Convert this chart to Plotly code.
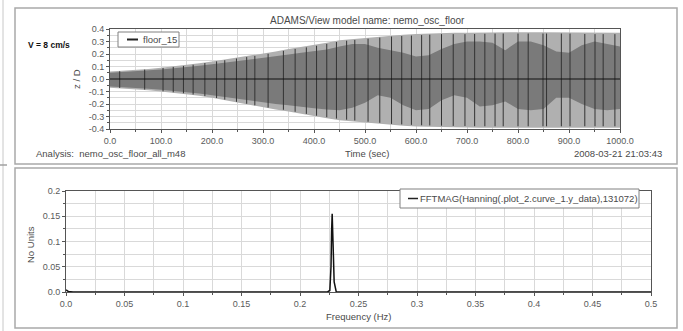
import numpy as np
import plotly.graph_objects as go

# ---------------- data ----------------
# Time history envelope of z/D for floor_15, sampled every 25 s
env_time = list(range(0, 1001, 25))
outer_hi = [0.06, 0.065, 0.07, 0.08, 0.09, 0.10, 0.11, 0.125, 0.14, 0.155, 0.17, 0.185, 0.20, 0.22,
            0.24, 0.255, 0.27, 0.29, 0.31, 0.32, 0.33, 0.34, 0.35, 0.355, 0.36, 0.365, 0.37, 0.37,
            0.37, 0.372, 0.375, 0.375, 0.375, 0.375, 0.375, 0.375, 0.375, 0.372, 0.37, 0.37, 0.37]
outer_lo = [-0.07, -0.075, -0.08, -0.09, -0.10, -0.11, -0.12, -0.135, -0.15, -0.17, -0.19, -0.21,
            -0.23, -0.245, -0.26, -0.28, -0.30, -0.315, -0.33, -0.34, -0.35, -0.36, -0.37, -0.375,
            -0.38, -0.383, -0.385, -0.387, -0.388, -0.39, -0.39, -0.39, -0.39, -0.39, -0.39, -0.39,
            -0.39, -0.39, -0.39, -0.39, -0.39]
inner_hi = [0.05, 0.055, 0.06, 0.068, 0.076, 0.085, 0.094, 0.105, 0.118, 0.13, 0.142, 0.155, 0.165,
            0.18, 0.195, 0.21, 0.22, 0.235, 0.26, 0.28, 0.28, 0.25, 0.23, 0.21, 0.18, 0.19, 0.24,
            0.28, 0.30, 0.30, 0.29, 0.23, 0.30, 0.30, 0.27, 0.22, 0.21, 0.27, 0.30, 0.28, 0.26]
inner_lo = [-0.06, -0.065, -0.07, -0.078, -0.086, -0.095, -0.104, -0.116, -0.13, -0.145, -0.16,
            -0.175, -0.19, -0.20, -0.21, -0.225, -0.235, -0.245, -0.25, -0.23, -0.19, -0.13, -0.15,
            -0.21, -0.25, -0.24, -0.17, -0.13, -0.15, -0.22, -0.21, -0.18, -0.24, -0.25, -0.24,
            -0.15, -0.15, -0.20, -0.24, -0.25, -0.24]
# times of the darker vertical strokes in the time history
streak_time = [19, 68, 104, 124, 144, 163, 186, 209, 225, 248, 268, 284, 310, 340, 363, 385, 405,
               425, 444, 464, 480, 506, 529, 552, 572, 591, 611, 627, 650, 673, 696, 715, 735,
               755, 771, 800, 820, 849, 856, 885, 902, 931, 951, 967, 990]

# FFT magnitude spectrum
fft_freq = [0.0, 0.002, 0.006, 0.2235, 0.2255, 0.2265, 0.2270, 0.2275, 0.2282, 0.2292, 0.2310, 0.5]
fft_mag = [0.004, 0.001, 0.0, 0.0, 0.003, 0.05, 0.12, 0.155, 0.10, 0.02, 0.0, 0.0]

# tick labels
top_x_ticks = [0, 100, 200, 300, 400, 500, 600, 700, 800, 900, 1000]
top_x_text = ["0.0", "100.0", "200.0", "300.0", "400.0", "500.0", "600.0", "700.0", "800.0", "900.0", "1000.0"]
top_y_ticks = [0.4, 0.3, 0.2, 0.1, 0.0, -0.1, -0.2, -0.3, -0.4]
top_y_text = ["0.4", "0.3", "0.2", "0.1", "0.0", "-0.1", "-0.2", "-0.3", "-0.4"]
bot_x_ticks = [0, 0.05, 0.1, 0.15, 0.2, 0.25, 0.3, 0.35, 0.4, 0.45, 0.5]
bot_x_text = ["0.0", "0.05", "0.1", "0.15", "0.2", "0.25", "0.3", "0.35", "0.4", "0.45", "0.5"]
bot_y_ticks = [0.0, 0.05, 0.1, 0.15, 0.2]
bot_y_text = ["0.0", "0.05", "0.1", "0.15", "0.2"]

series_top = "floor_15"
series_bottom = "FFTMAG(Hanning(.plot_2.curve_1.y_data),131072)"

# ---------------- figure ----------------
W, H = 683, 331
FONT = "Liberation Sans, Arial, sans-serif"
TXT = "#4a4a4a"

def px_x(p):
    return p / W

def px_y(p):
    return 1 - p / H

fig = go.Figure()

# outer light band
fig.add_trace(go.Scatter(x=env_time, y=outer_hi, mode="lines", line=dict(width=0, color="#b0b0b0"),
                         showlegend=False, hoverinfo="skip", xaxis="x", yaxis="y"))
fig.add_trace(go.Scatter(x=env_time, y=outer_lo, mode="lines", line=dict(width=0, color="#b0b0b0"),
                         fill="tonexty", fillcolor="#b0b0b0", showlegend=False, hoverinfo="skip",
                         xaxis="x", yaxis="y"))
# inner darker band
fig.add_trace(go.Scatter(x=env_time, y=inner_hi, mode="lines", line=dict(width=0, color="#7a7a7a"),
                         showlegend=False, hoverinfo="skip", xaxis="x", yaxis="y"))
fig.add_trace(go.Scatter(x=env_time, y=inner_lo, mode="lines", line=dict(width=0, color="#7a7a7a"),
                         fill="tonexty", fillcolor="#7a7a7a", showlegend=False, hoverinfo="skip",
                         xaxis="x", yaxis="y"))
# dark strokes
sx, sy = [], []
for t in streak_time:
    hi = float(np.interp(t, env_time, outer_hi))
    lo = float(np.interp(t, env_time, outer_lo))
    sx += [t, t, None]
    sy += [lo * 0.97, hi * 0.97, None]
fig.add_trace(go.Scatter(x=sx, y=sy, mode="lines", line=dict(width=1, color="#333333"),
                         showlegend=False, hoverinfo="skip", xaxis="x", yaxis="y"))
# mean line
fig.add_trace(go.Scatter(x=[0, 1000], y=[0, 0], mode="lines", line=dict(width=1, color="#111111"),
                         name=series_top, showlegend=False, hoverinfo="skip", xaxis="x", yaxis="y"))

# FFT
fig.add_trace(go.Scatter(x=fft_freq, y=fft_mag, mode="lines", line=dict(width=1.5, color="#111111"),
                         name=series_bottom, showlegend=False, xaxis="x2", yaxis="y2"))

axis_common = dict(showline=True, linecolor="#555555", linewidth=1, mirror=True,
                   ticks="outside", ticklen=3, tickcolor="#555555", automargin=False,
                   tickfont=dict(family=FONT, size=9, color="#5a5a5a"),
                   gridcolor="#d9d9d9", gridwidth=1, zeroline=False, fixedrange=True)

fig.update_layout(
    width=W, height=H,
    margin=dict(l=0, r=0, t=0, b=0, autoexpand=False),
    paper_bgcolor="white", plot_bgcolor="white",
    font=dict(family=FONT, size=9, color=TXT),
    showlegend=False,
    xaxis=dict(domain=[px_x(110), px_x(620)], range=[0, 1000], anchor="y",
               tickvals=top_x_ticks, ticktext=top_x_text,
               minor=dict(dtick=50, tick0=0, showgrid=True, gridcolor="#d9d9d9", ticks="outside",
                          ticklen=2, tickcolor="#555555"),
               **axis_common),
    yaxis=dict(domain=[px_y(129), px_y(29)], range=[-0.4, 0.4], anchor="x",
               tickvals=top_y_ticks, ticktext=top_y_text,
               minor=dict(dtick=0.05, tick0=0, showgrid=True, gridcolor="#d9d9d9", ticks="outside",
                          ticklen=2, tickcolor="#555555"),
               **axis_common),
    xaxis2=dict(domain=[px_x(66), px_x(651)], range=[0, 0.5], anchor="y2",
                tickvals=bot_x_ticks, ticktext=bot_x_text,
                minor=dict(dtick=0.025, tick0=0, showgrid=True, gridcolor="#d9d9d9", ticks="outside",
                           ticklen=2, tickcolor="#555555"),
                **axis_common),
    yaxis2=dict(domain=[px_y(292), px_y(191)], range=[0, 0.2], anchor="x2",
                tickvals=bot_y_ticks, ticktext=bot_y_text,
                minor=dict(dtick=0.025, tick0=0, showgrid=True, gridcolor="#d9d9d9", ticks="outside",
                           ticklen=2, tickcolor="#555555"),
                **axis_common),
)

# panel frames, legend boxes and decoration
shapes = [
    dict(type="rect", xref="paper", yref="paper", x0=px_x(15), x1=px_x(677), y0=px_y(164), y1=px_y(8),
         line=dict(color="#a9a9a9", width=1.5), layer="below"),
    dict(type="rect", xref="paper", yref="paper", x0=px_x(15), x1=px_x(677), y0=px_y(328), y1=px_y(168),
         line=dict(color="#a9a9a9", width=1.5), layer="below"),
    dict(type="line", xref="paper", yref="paper", x0=px_x(3), x1=px_x(3), y0=0, y1=1,
         line=dict(color="#c8c8c8", width=1)),
    dict(type="line", xref="paper", yref="paper", x0=0, x1=px_x(7), y0=px_y(165), y1=px_y(165),
         line=dict(color="#a0a0a0", width=1.5)),
    # legend 1
    dict(type="rect", xref="paper", yref="paper", x0=px_x(118), x1=px_x(179), y0=px_y(47), y1=px_y(32),
         line=dict(color="#808080", width=1), fillcolor="white", layer="above"),
    dict(type="line", xref="paper", yref="paper", x0=px_x(127), x1=px_x(138), y0=px_y(39.5), y1=px_y(39.5),
         line=dict(color="#222222", width=2), layer="above"),
    # legend 2
    dict(type="rect", xref="paper", yref="paper", x0=px_x(400), x1=px_x(639), y0=px_y(208), y1=px_y(189),
         line=dict(color="#808080", width=1), fillcolor="white", layer="above"),
    dict(type="line", xref="paper", yref="paper", x0=px_x(408), x1=px_x(418), y0=px_y(198.5), y1=px_y(198.5),
         line=dict(color="#222222", width=1.5), layer="above"),
]
fig.update_layout(shapes=shapes)

ann = [
    dict(text="ADAMS/View model name: nemo_osc_floor", x=px_x(367), y=px_y(20), size=10),
    dict(text="<b>V = 8 cm/s</b>", x=px_x(26), y=px_y(45), xanchor="left", color="#111111", size=8.5),
    dict(text="Analysis:  nemo_osc_floor_all_m48", x=px_x(34), y=px_y(153), xanchor="left"),
    dict(text="Time (sec)", x=px_x(367), y=px_y(153)),
    dict(text="2008-03-21 21:03:43", x=px_x(664), y=px_y(153), xanchor="right"),
    dict(text="Frequency (Hz)", x=px_x(358), y=px_y(316)),
    dict(text=series_top, x=px_x(141), y=px_y(39.5), xanchor="left"),
    dict(text=series_bottom, x=px_x(418), y=px_y(198.5), xanchor="left"),
]
annotations = []
for a in ann:
    annotations.append(dict(text=a["text"], x=a["x"], y=a["y"], xref="paper", yref="paper",
                            xanchor=a.get("xanchor", "center"), yanchor="middle", showarrow=False,
                            font=dict(family=FONT, size=a.get("size", 9.5), color=a.get("color", TXT))))
annotations.append(dict(text="z / D", x=px_x(76), y=px_y(79), xref="paper", yref="paper", textangle=-90,
                        showarrow=False, xanchor="center", yanchor="middle",
                        font=dict(family=FONT, size=9.5, color=TXT)))
annotations.append(dict(text="No Units", x=px_x(30), y=px_y(245), xref="paper", yref="paper", textangle=-90,
                        showarrow=False, xanchor="center", yanchor="middle",
                        font=dict(family=FONT, size=9.5, color=TXT)))
fig.update_layout(annotations=annotations)

fig.write_html("out.html", config={"displayModeBar": False},
               post_script="document.body.style.margin='0px';document.body.style.overflow='hidden';")
